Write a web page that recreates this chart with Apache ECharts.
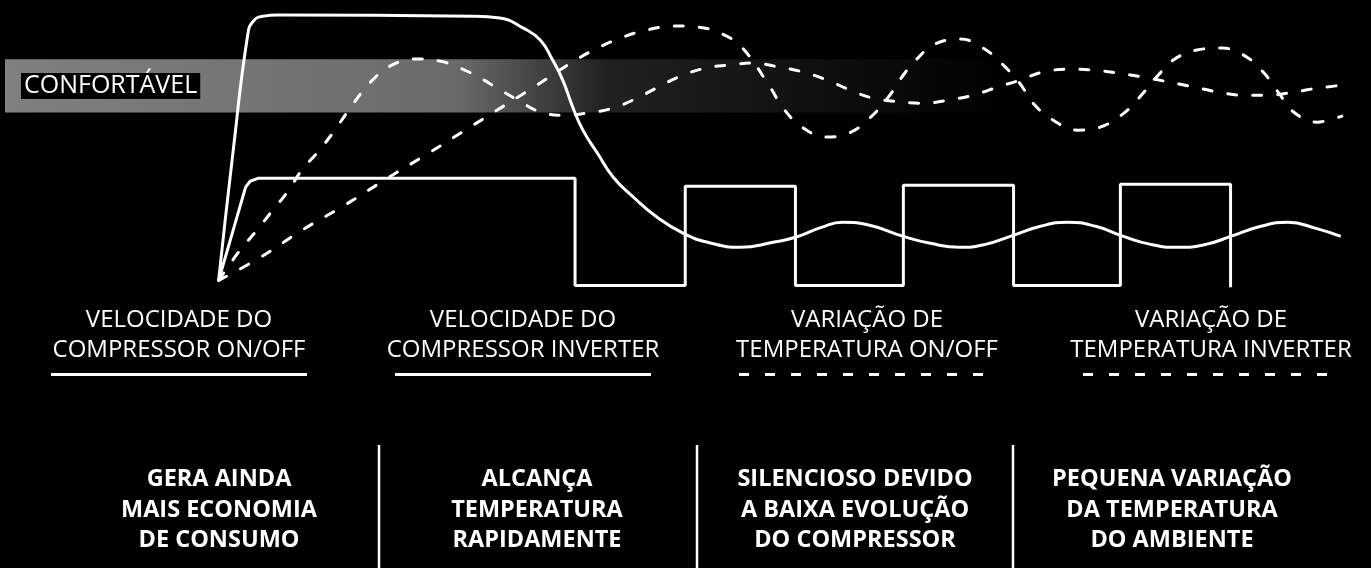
<!DOCTYPE html>
<html>
<head>
<meta charset="utf-8">
<script src="https://cdn.jsdelivr.net/npm/echarts@6/dist/echarts.min.js"></script>
<style>
  html, body { margin: 0; padding: 0; background: #000; }
  #main-chart { width: 1371px; height: 568px; }
</style>
</head>
<body>
<div id="main-chart"></div>
<script>
// [time, level] pairs, time 0..100, level 0..100
const inverterSpeed = [
  [0, 0], [1.3, 48.9], [2.6, 92.5], [3.1, 97.4], [4.0, 99.2], [5.2, 99.6], [22.6, 99.2],
  [25.0, 98.5], [27.1, 94.7], [28.6, 90.2], [29.7, 82.7], [30.6, 75.2], [31.5, 65.0],
  [32.4, 56.4], [33.7, 47.7], [35.1, 38.7], [36.9, 31.2], [39.0, 23.7], [41.3, 17.7],
  [43.5, 14.3], [46.4, 12.4], [49.3, 14.3], [51.3, 16.2], [53.6, 19.9], [55.5, 21.8],
  [57.9, 20.7], [60.9, 16.5], [63.3, 13.9], [65.9, 12.4], [68.2, 13.5], [70.4, 16.5],
  [73.1, 20.3], [75.5, 21.8], [78.0, 20.3], [80.2, 16.9], [82.9, 13.5], [85.3, 12.4],
  [87.8, 13.5], [90.0, 16.5], [92.7, 20.3], [95.1, 21.8], [97.6, 19.5], [99.8, 16.5]
]
const onOffSpeed = [
  [0, 0], [2.4, 35.0], [2.8, 37.2], [3.5, 38.3], [31.7, 38.3], [31.7, -1.9],
  [41.5, -1.9], [41.5, 35.3], [51.3, 35.3], [51.3, -1.9], [60.9, -1.9], [60.9, 35.7],
  [70.7, 35.7], [70.7, -1.9], [80.2, -1.9], [80.2, 36.1], [90.0, 36.1], [90.0, -2.6]
]
const onOffTemp = [
  [0, 0], [3.7, 8.6], [7.4, 18.8], [11.2, 28.2], [15.0, 38.3], [18.8, 48.1], [22.5, 57.9],
  [28.3, 73.3], [31.9, 83.1], [33.9, 87.6], [36.0, 91.4], [38.1, 94.0], [40.4, 95.5],
  [42.6, 95.1], [44.8, 92.5], [46.6, 87.2], [49.1, 72.2], [50.2, 64.7], [51.9, 57.5],
  [54.1, 53.8], [56.2, 55.6], [57.9, 60.9], [59.5, 68.4], [60.9, 77.1], [62.0, 82.7],
  [63.7, 88.7], [66.0, 90.6], [68.0, 87.2], [69.7, 81.2], [71.3, 73.7], [72.5, 66.2],
  [74.2, 60.2], [76.4, 56.4], [78.4, 57.5], [80.4, 62.4], [82.0, 69.2], [83.5, 76.7],
  [84.9, 82.7], [87.0, 86.5], [89.3, 87.2], [91.3, 84.2], [92.9, 78.2], [94.3, 70.3],
  [95.6, 63.2], [97.7, 59.4], [99.9, 61.7]
]
const inverterTemp = [
  [0, 0], [1.9, 11.3], [3.4, 18.8], [4.8, 26.3], [6.1, 33.1], [7.4, 41.4], [8.8, 48.1],
  [10.2, 55.6], [11.7, 64.7], [13.5, 74.4], [15.4, 80.8], [17.5, 83.1], [19.7, 82.3],
  [21.5, 79.7], [23.3, 75.9], [24.6, 72.6], [26.6, 67.7], [28.6, 63.2], [30.6, 62.0],
  [32.8, 62.8], [35.1, 64.7], [37.2, 68.4], [39.1, 72.6], [41.1, 76.7], [43.3, 79.7],
  [45.3, 80.8], [47.6, 81.6], [49.8, 80.1], [52.0, 78.2], [54.1, 75.2], [56.2, 71.4],
  [58.2, 68.4], [60.9, 66.9], [62.7, 66.5], [64.9, 67.7], [67.1, 69.5], [69.3, 72.6],
  [71.3, 75.2], [73.3, 78.2], [75.7, 79.3], [78.0, 78.9], [80.0, 77.8], [82.2, 76.3],
  [84.6, 74.4], [86.7, 72.6], [88.9, 70.7], [91.1, 69.5], [93.3, 69.5], [95.6, 70.7],
  [97.8, 72.2], [100, 73.3]
]
// comfort band: [time, level] corners
const comfortBand = [[-19, 63], [70, 83]]
const comfortLabel = 'CONFORTÁVEL'

const legendLabels = [
  'VELOCIDADE DO\nCOMPRESSOR ON/OFF',
  'VELOCIDADE DO\nCOMPRESSOR INVERTER',
  'VARIAÇÃO DE\nTEMPERATURA ON/OFF',
  'VARIAÇÃO DE\nTEMPERATURA INVERTER'
]
const legendDashed = [false, false, true, true]
const benefitLabels = [
  'GERA AINDA\nMAIS ECONOMIA\nDE CONSUMO',
  'ALCANÇA\nTEMPERATURA\nRAPIDAMENTE',
  'SILENCIOSO DEVIDO\nA BAIXA EVOLUÇÃO\nDO COMPRESSOR',
  'PEQUENA VARIAÇÃO\nDA TEMPERATURA\nDO AMBIENTE'
]

const chart = echarts.init(document.getElementById('main-chart'))

const DASH = [9, 16]
const solid = { color: '#fff', width: 3 }
const dashed = { color: '#fff', width: 3, type: DASH, cap: 'round' }

const legendX = [179, 523, 867, 1211]
const benefitX = [219, 537, 855, 1172]
const separatorX = [379, 697, 1013]

const graphic = []
legendLabels.forEach((t, i) => {
  graphic.push({
    type: 'text', x: legendX[i], y: 335, silent: true,
    style: {
      text: t, fill: '#fff', font: '24px "Open Sans"',
      textAlign: 'center', textVerticalAlign: 'middle', lineHeight: 30
    }
  })
  graphic.push({
    type: 'line', silent: true,
    shape: { x1: legendX[i] - 128, y1: 374.5, x2: legendX[i] + 128, y2: 374.5 },
    style: { stroke: '#fff', lineWidth: 3, lineDash: legendDashed[i] ? [10, 16] : null }
  })
})
benefitLabels.forEach((t, i) => {
  graphic.push({
    type: 'text', x: benefitX[i], y: 510, silent: true,
    style: {
      text: t, fill: '#fff', font: 'bold 23.5px "Open Sans"',
      textAlign: 'center', textVerticalAlign: 'middle', lineHeight: 30.5
    }
  })
})
separatorX.forEach(x => graphic.push({
  type: 'line', silent: true,
  shape: { x1: x, y1: 445, x2: x, y2: 568 },
  style: { stroke: '#fff', lineWidth: 2.5 }
}))

const option = {
  backgroundColor: '#000',
  animation: false,
  grid: { left: 5, right: 28, top: 14, bottom: 261 },
  xAxis: { type: 'value', min: -19, max: 100, show: false },
  yAxis: { type: 'value', min: -10, max: 100, show: false },
  series: [
    {
      name: 'comfort', type: 'line', data: [], z: 1,
      markArea: {
        silent: true,
        itemStyle: {
          color: new echarts.graphic.LinearGradient(0, 0, 1, 0, [
            { offset: 0, color: 'rgba(255,255,255,0.5)' },
            { offset: 0.45, color: 'rgba(255,255,255,0.42)' },
            { offset: 0.6, color: 'rgba(255,255,255,0.13)' },
            { offset: 1, color: 'rgba(255,255,255,0)' }
          ])
        },
        label: {
          show: true, position: 'insideLeft', distance: 16,
          color: '#fff', fontFamily: 'Open Sans', fontSize: 25,
          backgroundColor: '#000', padding: [0, 3, 0, 3], lineHeight: 26
        },
        data: [[
          { name: comfortLabel, xAxis: comfortBand[0][0], yAxis: comfortBand[0][1] },
          { xAxis: comfortBand[1][0], yAxis: comfortBand[1][1] }
        ]]
      }
    },
    { name: 'Velocidade do compressor inverter', type: 'line', data: inverterSpeed, smooth: 0.5, showSymbol: false, lineStyle: solid, z: 3 },
    { name: 'Velocidade do compressor on/off', type: 'line', data: onOffSpeed, showSymbol: false, lineStyle: solid, z: 3 },
    { name: 'Variação de temperatura on/off', type: 'line', data: onOffTemp, smooth: 0.4, showSymbol: false, lineStyle: dashed, z: 3 },
    { name: 'Variação de temperatura inverter', type: 'line', data: inverterTemp, smooth: 0.4, showSymbol: false, lineStyle: dashed, z: 3 }
  ],
  graphic: graphic
}
chart.setOption(option)
</script>
</body>
</html>
